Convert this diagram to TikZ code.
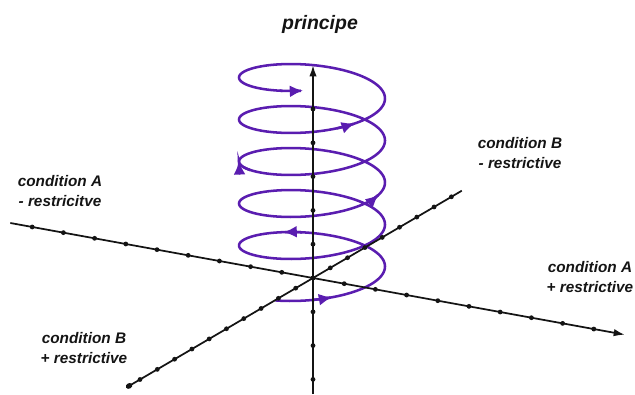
\documentclass[tikz,border=0pt]{standalone}
\usepackage{fontspec}
\setsansfont{Liberation Sans}
\usetikzlibrary{arrows.meta}
\definecolor{ink}{HTML}{141414}
\definecolor{coilviolet}{HTML}{5A1DB0}
\tikzset{
  axisline/.style={draw=ink, line width=1.3pt},
  axistip/.style={-{Latex[length=8.5pt,width=5.5pt]}},
  axisdot/.style={fill=ink},
  coilline/.style={draw=coilviolet, line width=1.9pt, line cap=round},
  coiltip/.style={coilline, -{Latex[length=10pt,width=9pt]}},
  condlabel/.style={font=\sffamily\bfseries\itshape\fontsize{11.5}{15.5}\selectfont, text=ink, align=center},
  titlelabel/.style={font=\sffamily\bfseries\itshape\fontsize{14.6}{17}\selectfont, text=ink},
}
% helix in pixel units: x = centre - R cos t, y = rise + r sin t
\def\hx#1{312-73*cos(#1)}
\def\hy#1{277-(#1-90)*0.1166667+23*sin(#1)}

\begin{document}
\begin{tikzpicture}[x=0.75pt, y=-0.75pt]
\useasboundingbox (0,0) rectangle (635,394);

% -----------------------------------------------------------------------------
% spiral
% -----------------------------------------------------------------------------
\draw[coilline] plot[domain=60:1866, samples=600, variable=\t] ({\hx{\t}},{\hy{\t}});
\foreach \a/\b in {92/106, 278/293, 860/876, 1112/1079, 1550/1566, 1864/1883}{
  \draw[coiltip] plot[domain=\a:\b, samples=12, variable=\t] ({\hx{\t}},{\hy{\t}});
}

% -----------------------------------------------------------------------------
% axes
% -----------------------------------------------------------------------------
\coordinate (O) at (313,278);
\def\ax{31.2}\def\ay{5.67}
\def\bx{17.3}\def\by{-10.15}
\coordinate (Aneg) at ({313-9.7*\ax},{278-9.7*\ay});
\coordinate (Apos) at ({313+10*\ax},{278+10*\ay});
\coordinate (Bneg) at ({313-10.8*\bx},{278-10.8*\by});
\coordinate (Bpos) at ({313+8.6*\bx},{278+8.6*\by});
\coordinate (Cneg) at (313,394);
\coordinate (Cpos) at (313,65);

\draw[axisline, axistip] (Aneg) -- (Apos);
\draw[axisline, {Circle[length=5pt,width=4pt]}-] (Bneg) -- (Bpos);
\draw[axisline, axistip] (Cneg) -- (Cpos);

\foreach \i in {-9,...,9}{\fill[axisdot] ({313+\i*\ax},{278+\i*\ay}) circle (1.8pt);}
\foreach \i in {-10,...,8}{\fill[axisdot] ({313+\i*\bx},{278+\i*\by}) circle (1.8pt);}
\foreach \i in {-3,...,5}{\fill[axisdot] (313,{278-\i*33.8}) circle (1.8pt);}

% -----------------------------------------------------------------------------
% labels
% -----------------------------------------------------------------------------
\node[titlelabel] (title) at (320,24) {principe};
\node[condlabel] (condAneg) at (60,191) {condition A\\- restricitve};
\node[condlabel] (condBneg) at (520,153) {condition B\\- restrictive};
\node[condlabel] (condApos) at (590,277) {condition A\\+ restrictive};
\node[condlabel] (condBpos) at (84,348) {condition B\\+ restrictive};

\end{tikzpicture}
\end{document}
